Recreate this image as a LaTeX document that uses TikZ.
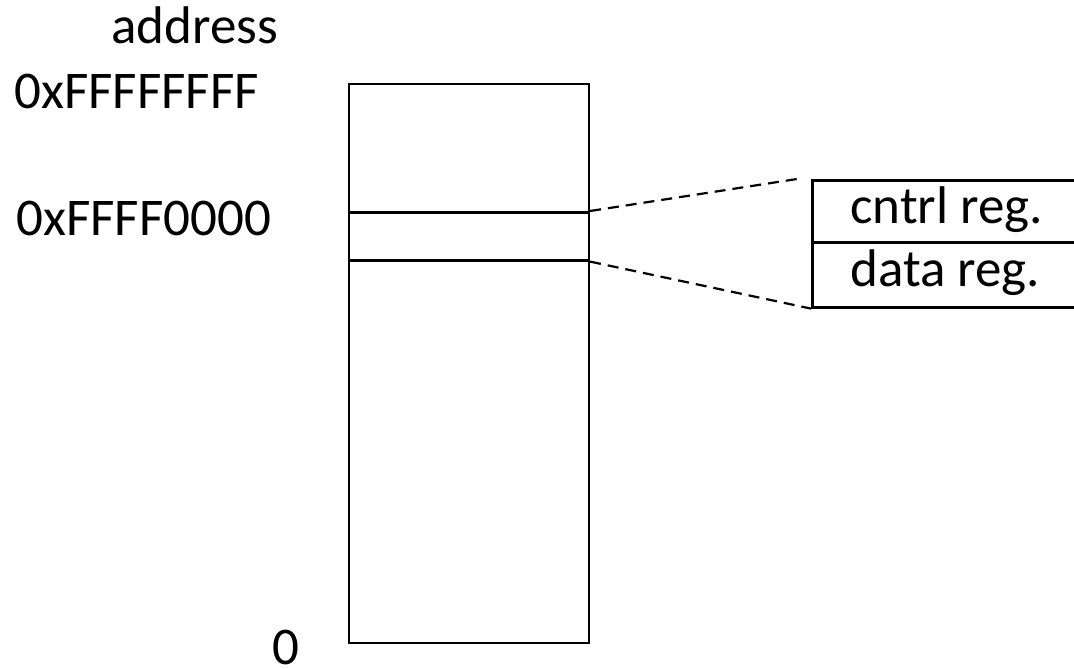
\documentclass[tikz,border=0pt]{standalone}
\usepackage{fontspec}
\setmainfont{Carlito}
\begin{document}
\begin{tikzpicture}[x=1pt,y=-1pt,
  line width=2.6pt,
  lbl/.style={anchor=base west,inner sep=0pt,font=\fontsize{53}{62}\selectfont},
  cell/.style={draw,rectangle,inner sep=0pt,anchor=north west},
  link/.style={dashed,dash pattern=on 11pt off 7pt,line width=2.2pt}]
  \clip (0,0) rectangle (1074,669);

  % address labels
  \node[lbl] (addr) at (110,44) {address};
  \node[lbl] (top) at (13,108) {0xFFFFFFFF};
  \node[lbl] (io) at (15,235) {0xFFFF0000};
  \node[lbl] (zero) at (271,664) {0};

  % memory column and the I/O slice
  \node[cell,minimum width=240pt,minimum height=559pt] (mem) at (347.5,82.7) {};
  \node[cell,minimum width=240pt,minimum height=48pt] (slice) at (347.5,211) {};

  % device registers
  \node[cell,minimum width=320pt,minimum height=62pt] (cntrl) at (811,179) {};
  \node[cell,minimum width=320pt,minimum height=65pt] (data) at (811,241) {};
  \node[lbl] at (849,223) {cntrl reg.};
  \node[lbl] at (849,286) {data reg.};

  % zoom lines
  \draw[link] (slice.north east) -- ([xshift=-14pt]cntrl.north west);
  \draw[link] (slice.south east) -- (data.south west);
\end{tikzpicture}
\end{document}
